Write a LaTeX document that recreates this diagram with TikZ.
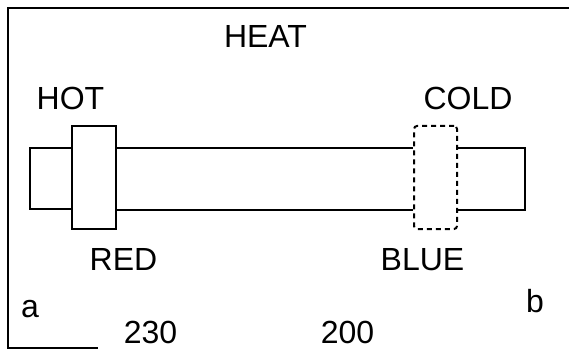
\documentclass[tikz,border=0pt]{standalone}
\usepackage{fontspec}
\setmainfont{Liberation Sans}
\begin{document}
\begin{tikzpicture}[x=1pt,y=-1pt,
  lbl/.style={anchor=base,inner sep=0pt,font=\fontsize{32}{32}\selectfont},
  solidbox/.style={draw,line width=2pt,minimum width=#1,inner sep=0pt},
  line/.style={line width=2pt},
  dashbox/.style={draw,line width=2pt,dash pattern=on 5pt off 4pt,rounded corners=3pt,inner sep=0pt}]
\useasboundingbox (0,0) rectangle (569,358);
% frame
\coordinate (ftr) at (569,8);
\coordinate (ftl) at (8,8);
\coordinate (fbl) at (8,348);
\coordinate (fbr) at (98,348);
\draw[line width=1.6pt] (ftr) -- (ftl) -- (fbl) -- (fbr);
% shapes
\node[solidbox=42pt,minimum height=61pt] (leftstub) at (51,178.5) {};
\node[solidbox=44pt,minimum height=103pt,fill=white] (redbox) at (94,177.5) {};
\node[dashbox,minimum width=43pt,minimum height=103pt] (bluebox) at (435.5,177.5) {};
\coordinate (rtop) at (525,148);
\coordinate (rbot) at (525,210);
\draw[line] (redbox.east |- rtop) -- (bluebox.west |- rtop);
\draw[line] (redbox.east |- rbot) -- (bluebox.west |- rbot);
\draw[line] (bluebox.east |- rtop) -- (rtop) -- (rbot) -- (bluebox.east |- rbot);
% labels
\node[lbl] (heat) at (265.5,48) {HEAT};
\node[lbl] (hot) at (70.5,110) {HOT};
\node[lbl] (cold) at (468,110) {COLD};
\node[lbl] (red) at (123.5,270) {RED};
\node[lbl] (blue) at (422.5,270) {BLUE};
\node[lbl] (a) at (30,317) {a};
\node[lbl] (b) at (535,312) {b};
\node[lbl] (n230) at (150.5,343) {230};
\node[lbl] (n200) at (347.5,343) {200};
\end{tikzpicture}
\end{document}
